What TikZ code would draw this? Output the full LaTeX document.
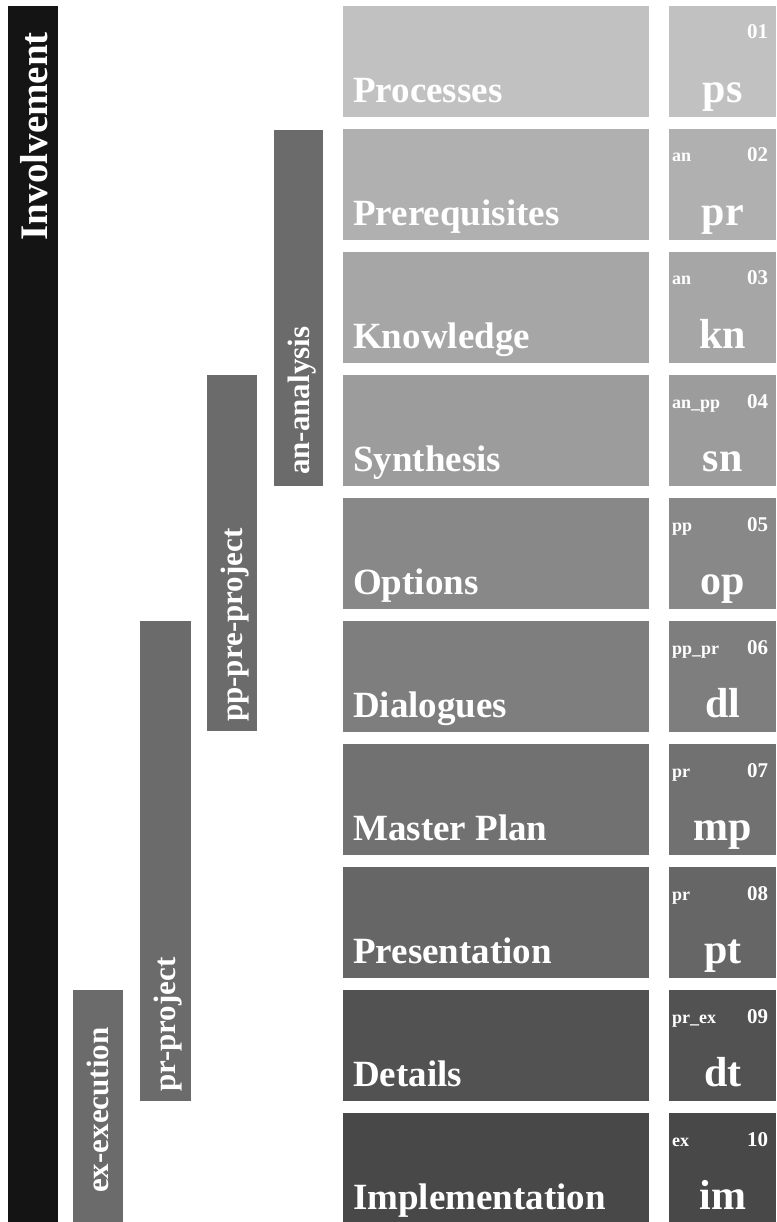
\documentclass[tikz,border=0pt]{standalone}
\usepackage{fontspec}
\setmainfont{Liberation Serif}
\definecolor{cA}{HTML}{C1C1C1}
\definecolor{cB}{HTML}{B0B0B0}
\definecolor{cC}{HTML}{A6A6A6}
\definecolor{cD}{HTML}{9C9C9C}
\definecolor{cE}{HTML}{888888}
\definecolor{cF}{HTML}{7E7E7E}
\definecolor{cG}{HTML}{717171}
\definecolor{cH}{HTML}{666666}
\definecolor{cI}{HTML}{525252}
\definecolor{cJ}{HTML}{484848}
\definecolor{barc}{HTML}{6B6B6B}
\definecolor{blackc}{HTML}{141414}
\tikzset{
  rowbox/.style={rectangle, draw=none, inner sep=0pt, minimum width=306pt, minimum height=111pt, anchor=north west},
  codebox/.style={rectangle, draw=none, inner sep=0pt, minimum width=107pt, minimum height=111pt, anchor=north west},
  barbox/.style={rectangle, draw=none, inner sep=0pt, minimum width=50pt, anchor=north west, fill=barc},
  rowtext/.style={anchor=base west, inner sep=0pt, text=white, font=\fontsize{37pt}{40pt}\selectfont\bfseries},
  codetext/.style={anchor=base, inner sep=0pt, text=white, font=\fontsize{42pt}{44pt}\selectfont\bfseries},
  tagtext/.style={anchor=base west, inner sep=0pt, text=white, font=\fontsize{18pt}{20pt}\selectfont\bfseries},
  numtext/.style={anchor=base east, inner sep=0pt, text=white, font=\fontsize{21pt}{23pt}\selectfont\bfseries},
  vtext/.style={rotate=90, anchor=base west, inner sep=0pt, text=white, font=\fontsize{31pt}{33pt}\selectfont\bfseries},
}
\begin{document}
\begin{tikzpicture}[x=1pt,y=-1pt]
\useasboundingbox[fill=white] (0,0) rectangle (776,1222);
% left bars
\node[barbox, fill=blackc, minimum height=1216pt] (inv) at (8,6) {};
\node[rotate=90, anchor=base east, inner sep=0pt, text=white, font=\fontsize{39pt}{41pt}\selectfont\bfseries] (invt) at (47,32) {Involvement};
\node[barbox, minimum height=356pt, minimum width=49pt] (an) at (274,130) {};
\node[vtext] (ant) at (309,475) {an-analysis};
\node[barbox, minimum height=356pt] (pp) at (207,375) {};
\node[vtext] (ppt) at (242,722) {pp-pre-project};
\node[barbox, minimum height=480pt, minimum width=51pt] (pr) at (140,621) {};
\node[vtext] (prt) at (175,1092) {pr-project};
\node[barbox, minimum height=232pt] (ex) at (73,990) {};
\node[vtext] (ext) at (108,1193) {ex-execution};
% rows
\foreach \i/\c/\name/\code/\tag/\num in {
  1/cA/Processes/ps//01,
  2/cB/Prerequisites/pr/an/02,
  3/cC/Knowledge/kn/an/03,
  4/cD/Synthesis/sn/an\_pp/04,
  5/cE/Options/op/pp/05,
  6/cF/Dialogues/dl/pp\_pr/06,
  7/cG/Master Plan/mp/pr/07,
  8/cH/Presentation/pt/pr/08,
  9/cI/Details/dt/pr\_ex/09,
  10/cJ/Implementation/im/ex/10}{
  \pgfmathsetmacro{\ytop}{6+123*(\i-1)}
  \node[rowbox, fill=\c] (row\i) at (343,\ytop) {};
  \node[codebox, fill=\c] (code\i) at (669,\ytop) {};
  \node[rowtext] (rowt\i) at ([xshift=10pt, yshift=15pt]row\i.south west) {\name};
  \node[codetext] (codet\i) at ([yshift=15pt]code\i.south) {\code};
  \node[tagtext] (tag\i) at ([xshift=3pt, yshift=-33pt]code\i.north west) {\tag};
  \node[numtext] (num\i) at ([xshift=-8pt, yshift=-33pt]code\i.north east) {\num};
}
\end{tikzpicture}
\end{document}
